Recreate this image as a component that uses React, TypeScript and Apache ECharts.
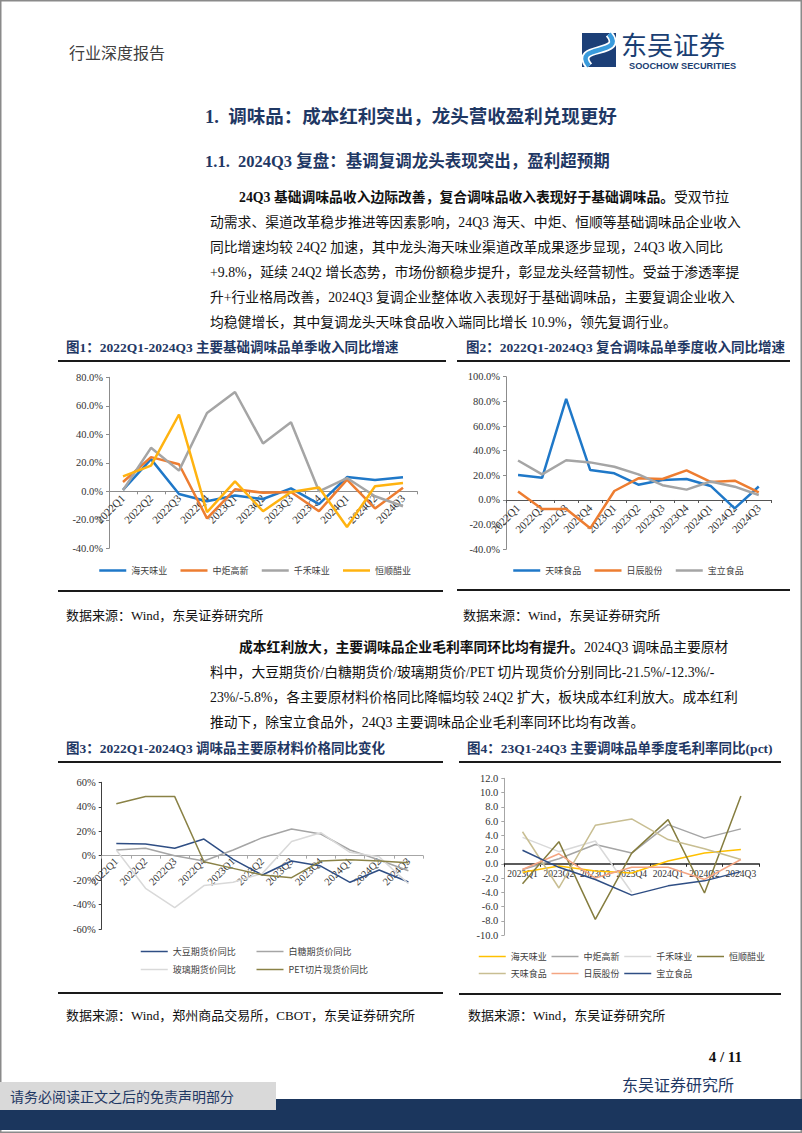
import React, { useEffect, useRef } from "react";
import * as echarts from "echarts";

// ---------- data ----------
const quarters22 = ["2022Q1", "2022Q2", "2022Q3", "2022Q4", "2023Q1", "2023Q2", "2023Q3", "2023Q4", "2024Q1", "2024Q2", "2024Q3"];
const quarters23 = ["2023Q1", "2023Q2", "2023Q3", "2023Q4", "2024Q1", "2024Q2", "2024Q3"];

// Fig 1 (%)
const haitian1 = [1.0, 22.6, -1.9, -7.0, -3.0, -5.4, 2.1, -9.0, 10.0, 8.0, 9.8];
const zhongju1 = [6.5, 24.0, 19.0, -19.0, 1.4, -1.0, -0.5, -14.0, 8.2, -12.0, 2.5];
const qianhe1 = [0.7, 30.5, 14.5, 55.0, 69.7, 33.6, 48.5, 0.0, 9.3, -3.5, -10.5];
const hengshun1 = [10.5, 18.0, 53.9, -14.7, 7.0, -14.0, -0.5, 2.6, -25.0, 3.5, 5.8];

// Fig 2 (%)
const tianwei2 = [20.3, 18.0, 82.0, 24.3, 21.6, 12.4, 16.2, 17.0, 11.4, -6.8, 10.9];
const richen2 = [6.8, -7.3, -7.3, -23.0, 7.3, 17.6, 17.0, 24.0, 14.6, 15.7, 6.2];
const baoli2 = [32.0, 20.8, 32.2, 30.5, 27.0, 20.8, 12.0, 8.4, 15.0, 10.8, 4.0];

// Fig 3 (%)
const soybean3 = [10.0, 9.6, 6.0, 13.6, -3.0, -15.8, -4.4, -8.5, -21.8, -11.7, -21.5];
const sugar3 = [4.6, 6.0, 0.0, -4.4, 4.6, 14.7, 21.8, 17.7, 4.6, -3.5, -12.3];
const glass3 = [4.6, -26.7, -42.5, -24.5, -21.8, -14.5, 11.5, 18.8, 2.7, -1.0, -23.0];
const pet3 = [42.5, 48.3, 48.3, -5.0, -10.4, -15.8, -18.0, -4.4, -3.3, -4.4, -5.8];

// Fig 4 (pct)
const haitian4 = [-1.2, -0.3, -1.0, -1.3, 0.4, 1.5, 2.0];
const zhongju4 = [-0.8, 0.7, 2.7, 1.5, 5.5, 3.6, 4.9];
const qianhe4 = [3.7, 1.7, 3.2, -4.0, null, null, null];
const hengshun4 = [-2.8, 3.1, -7.8, 1.5, 6.2, -4.1, 9.5];
const tianwei4 = [4.5, -3.4, 5.4, 6.3, 3.4, 2.1, 0.6];
const richen4 = [-0.8, 1.4, -2.0, -0.5, -0.5, -2.2, 0.6];
const baoli4 = [1.9, -0.5, -2.2, -4.4, -3.1, -2.4, -1.1];

// ---------- style ----------
const SERIF = "'Liberation Serif','Times New Roman','Noto Sans CJK SC',serif";
const CJK = "'Noto Sans CJK SC','Liberation Serif',sans-serif";
const NAVY = "#1F3864";

const C = {
  blue: "#1F78C8",
  orange: "#ED7D31",
  gray: "#A5A5A5",
  gold: "#FFB310",
  darkBlue: "#2F4E84",
  light: "#D9D9D9",
  olive: "#8A8246",
  yellow: "#FFC000",
  darkOlive: "#857D3F",
  khaki: "#C8BE92",
  salmon: "#F4A582",
};

// grids: left, top, width, height, plus y range to place the category axis on the zero line
const G = [
  { left: 109, top: 377.3, width: 308, height: 171, min: -40, max: 80 },
  { left: 506, top: 376.7, width: 264.8, height: 172.6, min: -40, max: 100 },
  { left: 101.7, top: 782.3, width: 321.3, height: 146.7, min: -60, max: 60 },
  { left: 504.3, top: 778.3, width: 254.8, height: 156.7, min: -10, max: 12 },
];
const zeroOffset = (i: number) => -(G[i].height * (0 - G[i].min)) / (G[i].max - G[i].min);

function catAxis(gridIndex: number, data: string[], o: any) {
  return {
    type: "category",
    gridIndex,
    data,
    position: "bottom",
    offset: zeroOffset(gridIndex),
    boundaryGap: true,
    axisLine: { show: true, onZero: false, lineStyle: { color: o.lineColor, width: o.lineWidth || 1 } },
    axisTick: { show: true, length: 3, lineStyle: { color: o.lineColor } },
    axisLabel: {
      interval: 0,
      rotate: o.rotate,
      fontSize: o.fontSize,
      fontFamily: SERIF,
      color: "#333",
      margin: o.margin,
    },
    splitLine: { show: false },
  };
}

function valAxis(gridIndex: number, interval: number, fmt: (v: number) => string, color: string) {
  return {
    type: "value",
    gridIndex,
    min: G[gridIndex].min,
    max: G[gridIndex].max,
    interval,
    axisLine: { show: true, lineStyle: { color } },
    axisTick: { show: true, length: 3, lineStyle: { color } },
    axisLabel: { formatter: fmt, fontSize: 10.5, fontFamily: SERIF, color: "#333", margin: 6 },
    splitLine: { show: false },
  };
}

function line(name: string, data: (number | null)[], idx: number, color: string, width: number) {
  return {
    type: "line",
    name,
    data,
    xAxisIndex: idx,
    yAxisIndex: idx,
    symbol: "none",
    connectNulls: false,
    lineStyle: { color, width },
    itemStyle: { color },
  };
}

function legend(left: number, top: number, gap: number, items: [string, string, number][]) {
  return {
    left,
    top,
    padding: 0,
    itemGap: gap,
    itemWidth: 27,
    itemHeight: 8,
    selectedMode: false,
    textStyle: { fontSize: 9, fontFamily: CJK, color: "#404040" },
    data: items.map(([name, color, w]) => ({
      name,
      itemStyle: { color, opacity: 0 },
      lineStyle: { color, width: w },
    })),
  };
}

function txt(text: string, x: number, y: number, o: any = {}) {
  return {
    type: "text",
    x,
    y,
    silent: true,
    style: {
      text,
      fontSize: o.fontSize || 13.8,
      fontFamily: o.fontFamily || SERIF,
      fontWeight: o.fontWeight || "normal",
      fill: o.fill || "#111",
      align: o.align || "left",
      verticalAlign: "middle",
      lineHeight: o.lineHeight,
      rich: o.rich,
    },
  };
}

function hline(x1: number, x2: number, y: number, w = 2, color = "#1a1a1a") {
  return { type: "line", silent: true, shape: { x1, y1: y, x2, y2: y }, style: { stroke: color, lineWidth: w } };
}

const boldRich = {
  b: { fontWeight: "bold", fontSize: 13.8, fontFamily: SERIF, fill: "#111" },
};

const para1 = [
  "{b|24Q3 基础调味品收入边际改善，复合调味品收入表现好于基础调味品。}受双节拉",
  "动需求、渠道改革稳步推进等因素影响，24Q3 海天、中炬、恒顺等基础调味品企业收入",
  "同比增速均较 24Q2 加速，其中龙头海天味业渠道改革成果逐步显现，24Q3 收入同比",
  "+9.8%，延续 24Q2 增长态势，市场份额稳步提升，彰显龙头经营韧性。受益于渗透率提",
  "升+行业格局改善，2024Q3 复调企业整体收入表现好于基础调味品，主要复调企业收入",
  "均稳健增长，其中复调龙头天味食品收入端同比增长 10.9%，领先复调行业。",
];
const para2 = [
  "{b|成本红利放大，主要调味品企业毛利率同环比均有提升。}2024Q3 调味品主要原材",
  "料中，大豆期货价/白糖期货价/玻璃期货价/PET 切片现货价分别同比-21.5%/-12.3%/-",
  "23%/-5.8%，各主要原材料价格同比降幅均较 24Q2 扩大，板块成本红利放大。成本红利",
  "推动下，除宝立食品外，24Q3 主要调味品企业毛利率同环比均有改善。",
];

function buildGraphic() {
  const g: any[] = [];
  // page border
  g.push({ type: "rect", silent: true, shape: { x: 0.75, y: 0.75, width: 800.5, height: 1131.5 }, style: { fill: "none", stroke: "#8a8a8a", lineWidth: 1.5 } });
  // header
  g.push(txt("行业深度报告", 69, 53, { fontSize: 16, fill: "#404040" }));
  g.push({ type: "rect", silent: true, shape: { x: 582, y: 33, width: 34, height: 34 }, style: { fill: "#1C3F77" } });
  g.push({ type: "bezierCurve", silent: true, shape: { x1: 589, y1: 66, x2: 609, y2: 34, cpx1: 571, cpy1: 44, cpx2: 627, cpy2: 56 }, style: { stroke: "#ffffff", lineWidth: 8, fill: "none" } });
  g.push({ type: "bezierCurve", silent: true, shape: { x1: 589, y1: 66, x2: 609, y2: 34, cpx1: 571, cpy1: 44, cpx2: 627, cpy2: 56 }, style: { stroke: "#3A9BDC", lineWidth: 4.5, fill: "none" } });
  g.push(txt("东吴证券", 621, 43, { fontSize: 26, fontFamily: CJK, fill: "#1A3E72", lineHeight: 26 }));
  g.push(txt("SOOCHOW SECURITIES", 629, 65.5, { fontSize: 9.2, fontFamily: "'Liberation Sans Narrow','Liberation Sans',sans-serif", fill: "#1A3E72", fontWeight: "bold", lineHeight: 10 }));

  // titles
  g.push(txt("1.  调味品：成本红利突出，龙头营收盈利兑现更好", 205, 117, { fontSize: 18.5, fontWeight: "bold", fill: NAVY }));
  g.push(txt("1.1.  2024Q3 复盘：基调复调龙头表现突出，盈利超预期", 205, 161, { fontSize: 16.5, fontWeight: "bold", fill: NAVY }));

  para1.forEach((l, i) => g.push(txt(l, i === 0 ? 239 : 210, 197 + i * 25, { rich: boldRich })));
  para2.forEach((l, i) => g.push(txt(l, i === 0 ? 239 : 210, 647 + i * 25, { rich: boldRich })));

  // captions
  const capO = { fontSize: 13.5, fontWeight: "bold", fill: NAVY };
  g.push(txt("图1：2022Q1-2024Q3 主要基础调味品单季收入同比增速", 66, 347, capO));
  g.push(txt("图2：2022Q1-2024Q3 复合调味品单季度收入同比增速", 466, 347, capO));
  g.push(txt("图3：2022Q1-2024Q3 调味品主要原材料价格同比变化", 66, 748, capO));
  g.push(txt("图4：23Q1-24Q3 主要调味品单季度毛利率同比(pct)", 467, 748, capO));
  g.push(hline(58, 446, 361));
  g.push(hline(457, 790, 361));
  g.push(hline(58, 443, 591));
  g.push(hline(457, 790, 590));
  g.push(hline(58, 443, 762));
  g.push(hline(459, 781, 762));
  g.push(hline(58, 443, 993));
  g.push(hline(459, 781, 994));

  // sources
  g.push(txt("数据来源：Wind，东吴证券研究所", 66, 615, { fontSize: 13 }));
  g.push(txt("数据来源：Wind，东吴证券研究所", 463, 615, { fontSize: 13 }));
  g.push(txt("数据来源：Wind，郑州商品交易所，CBOT，东吴证券研究所", 66, 1015, { fontSize: 13 }));
  g.push(txt("数据来源：Wind，东吴证券研究所", 468, 1015, { fontSize: 13 }));

  // footer
  g.push(txt("4 / 11", 742, 1057, { fontSize: 15, fontWeight: "bold", align: "right" }));
  g.push(txt("东吴证券研究所", 622, 1085, { fontSize: 16, fill: NAVY }));
  g.push({ type: "rect", silent: true, shape: { x: 0, y: 1099, width: 802, height: 31 }, style: { fill: "#1B365D" } });
  g.push({ type: "rect", silent: true, shape: { x: 0, y: 1082, width: 276, height: 28 }, style: { fill: "#D9D9D9" } });
  g.push(txt("请务必阅读正文之后的免责声明部分", 10, 1097, { fontSize: 14, fill: NAVY }));
  return g;
}

const pct1 = (v: number) => v.toFixed(1) + "%";
const pct0 = (v: number) => v + "%";
const num1 = (v: number) => v.toFixed(1);

const option: any = {
  animation: false,
  backgroundColor: "#ffffff",
  grid: G.map((g) => ({ left: g.left, top: g.top, width: g.width, height: g.height, containLabel: false, outerBoundsMode: "none" })),
  xAxis: [
    catAxis(0, quarters22, { lineColor: "#8c8c8c", rotate: 45, fontSize: 11, margin: 5 }),
    catAxis(1, quarters22, { lineColor: "#555555", rotate: 45, fontSize: 11, margin: 6 }),
    catAxis(2, quarters22, { lineColor: "#a6a6a6", rotate: 45, fontSize: 10.5, margin: 4 }),
    catAxis(3, quarters23, { lineColor: "#262626", lineWidth: 1.5, rotate: 0, fontSize: 9.5, margin: 5 }),
  ],
  yAxis: [
    valAxis(0, 20, pct1, "#8c8c8c"),
    valAxis(1, 20, pct1, "#8c8c8c"),
    valAxis(2, 20, pct0, "#404040"),
    valAxis(3, 2, num1, "#a6a6a6"),
  ],
  legend: [
    legend(98, 566, 12, [["海天味业", C.blue, 2.5], ["中炬高新", C.orange, 2.5], ["千禾味业", C.gray, 2.5], ["恒顺醋业", C.gold, 2.5]]),
    legend(512, 566, 12, [["天味食品", C.blue, 2.5], ["日辰股份", C.orange, 2.5], ["宝立食品", C.gray, 2.5]]),
    legend(140, 947, 20, [["大豆期货价同比", C.darkBlue, 1.5], ["白糖期货价同比", C.gray, 1.5]]),
    legend(140, 965, 20, [["玻璃期货价同比", C.light, 1.5], ["PET切片现货价同比", C.olive, 1.5]]),
    legend(478, 952, 4, [["海天味业", C.yellow, 1.5], ["中炬高新", C.gray, 1.5], ["千禾味业", C.light, 1.5], ["恒顺醋业", C.darkOlive, 1.5]]),
    legend(478, 969, 4, [["天味食品", C.khaki, 1.5], ["日辰股份", C.salmon, 1.5], ["宝立食品", C.darkBlue, 1.5]]),
  ],
  series: [
    line("海天味业", haitian1, 0, C.blue, 2.5),
    line("中炬高新", zhongju1, 0, C.orange, 2.5),
    line("千禾味业", qianhe1, 0, C.gray, 2.5),
    line("恒顺醋业", hengshun1, 0, C.gold, 2.5),

    line("天味食品", tianwei2, 1, C.blue, 2.5),
    line("日辰股份", richen2, 1, C.orange, 2.5),
    line("宝立食品", baoli2, 1, C.gray, 2.5),

    line("大豆期货价同比", soybean3, 2, C.darkBlue, 1.5),
    line("白糖期货价同比", sugar3, 2, C.gray, 1.5),
    line("玻璃期货价同比", glass3, 2, C.light, 1.5),
    line("PET切片现货价同比", pet3, 2, C.olive, 1.5),

    line("海天味业", haitian4, 3, C.yellow, 1.5),
    line("中炬高新", zhongju4, 3, C.gray, 1.5),
    line("千禾味业", qianhe4, 3, C.light, 1.5),
    line("恒顺醋业", hengshun4, 3, C.darkOlive, 1.5),
    line("天味食品", tianwei4, 3, C.khaki, 1.5),
    line("日辰股份", richen4, 3, C.salmon, 1.5),
    line("宝立食品", baoli4, 3, C.darkBlue, 1.5),
  ],
  graphic: buildGraphic(),
};

export default function App() {
  const ref = useRef<HTMLDivElement>(null);
  useEffect(() => {
    document.body.style.margin = "0";
    const chart = echarts.init(ref.current!, null, { renderer: "svg", width: 802, height: 1133 });
    chart.setOption(option);
    return () => chart.dispose();
  }, []);
  return <div ref={ref} style={{ width: 802, height: 1133, background: "#fff" }} />;
}
